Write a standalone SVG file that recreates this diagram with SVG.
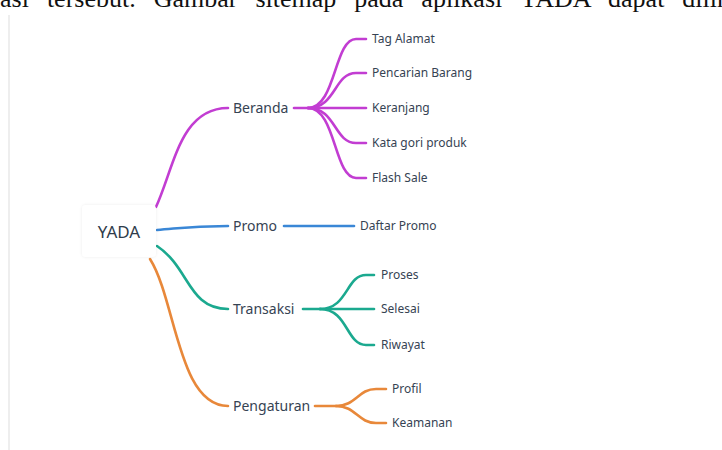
<svg xmlns="http://www.w3.org/2000/svg" width="722" height="450" viewBox="0 0 722 450">
  <defs>
    <filter id="soft" x="-20%" y="-20%" width="140%" height="140%">
      <feDropShadow dx="0" dy="0" stdDeviation="1.5" flood-color="#000" flood-opacity="0.08"/>
    </filter>
  </defs>
  <style>
    .lnk { fill: none; stroke-width: 2.6; stroke-linecap: round; }
    .purple { stroke: #c23dd2; }
    .blue { stroke: #3a87d6; }
    .teal { stroke: #1ba98f; }
    .orange { stroke: #e8883a; }
    .main { font-family: "Noto Sans", "DejaVu Sans", sans-serif; font-size: 14px; fill: #364353; }
    .leaf { font-family: "Noto Sans", "DejaVu Sans", sans-serif; font-size: 12px; fill: #364353; }
    .root { font-family: "Noto Sans", "DejaVu Sans", sans-serif; font-size: 17px; fill: #2f3c4b; }
  </style>
  <rect width="722" height="450" fill="#ffffff"/>
  <!-- running paragraph line above the figure -->
  <text x="-13" y="7" font-family="Liberation Serif, serif" font-size="26" fill="#111" word-spacing="11.5">nasi tersebut. Gambar sitemap pada aplikasi YADA dapat dilih</text>
  <!-- page margin rule -->
  <rect x="8" y="15" width="2" height="435" fill="#eeeeee"/>

  <g id="connectors">
    <!-- root to main branches -->
    <path class="lnk purple" d="M156,207 C174,168 180,108 228,108"/>
    <path class="lnk blue" d="M157,230 C182,228 190,226 228,226"/>
    <path class="lnk teal" d="M157,246 C190,268 188,309 228,309"/>
    <path class="lnk orange" d="M150,259 C176,300 178,406 228,406"/>
    <!-- Beranda -->
    <path class="lnk purple" d="M294,108 L308,108"/>
    <path class="lnk purple" d="M308,108 C336,108 334,39 356,39 L366,39"/>
    <path class="lnk purple" d="M308,108 C336,108 334,73 356,73 L366,73"/>
    <path class="lnk purple" d="M308,108 L366,108"/>
    <path class="lnk purple" d="M308,108 C336,108 334,143 356,143 L366,143"/>
    <path class="lnk purple" d="M308,108 C336,108 334,178 356,178 L366,178"/>
    <!-- Promo -->
    <path class="lnk blue" d="M284,226 L354,226"/>
    <!-- Transaksi -->
    <path class="lnk teal" d="M303,309 L320,309"/>
    <path class="lnk teal" d="M320,309 C348,309 346,275 366,275 L374,275"/>
    <path class="lnk teal" d="M320,309 L374,309"/>
    <path class="lnk teal" d="M320,309 C348,309 346,345 366,345 L374,345"/>
    <!-- Pengaturan -->
    <path class="lnk orange" d="M315,406 L336,406"/>
    <path class="lnk orange" d="M336,406 C356,406 358,389 376,389 L386,389"/>
    <path class="lnk orange" d="M336,406 C356,406 358,423 376,423 L386,423"/>
  </g>

  <g id="root">
    <rect x="82" y="205" width="74" height="52" rx="4" fill="#ffffff" filter="url(#soft)"/>
    <text class="root" x="119" y="238" text-anchor="middle">YADA</text>
  </g>

  <g id="beranda"><text class="main" x="233" y="113">Beranda</text></g>
  <g id="promo"><text class="main" x="233" y="231">Promo</text></g>
  <g id="transaksi"><text class="main" x="233" y="314">Transaksi</text></g>
  <g id="pengaturan"><text class="main" x="233" y="411">Pengaturan</text></g>

  <g id="tag-alamat"><text class="leaf" x="372" y="43">Tag Alamat</text></g>
  <g id="pencarian-barang"><text class="leaf" x="372" y="77">Pencarian Barang</text></g>
  <g id="keranjang"><text class="leaf" x="372" y="112">Keranjang</text></g>
  <g id="kategori-produk"><text class="leaf" x="372" y="147">Kata gori produk</text></g>
  <g id="flash-sale"><text class="leaf" x="372" y="182">Flash Sale</text></g>

  <g id="daftar-promo"><text class="leaf" x="360" y="230">Daftar Promo</text></g>

  <g id="proses"><text class="leaf" x="381" y="279">Proses</text></g>
  <g id="selesai"><text class="leaf" x="381" y="313">Selesai</text></g>
  <g id="riwayat"><text class="leaf" x="381" y="349">Riwayat</text></g>

  <g id="profil"><text class="leaf" x="392" y="393">Profil</text></g>
  <g id="keamanan"><text class="leaf" x="392" y="427">Keamanan</text></g>
</svg>
